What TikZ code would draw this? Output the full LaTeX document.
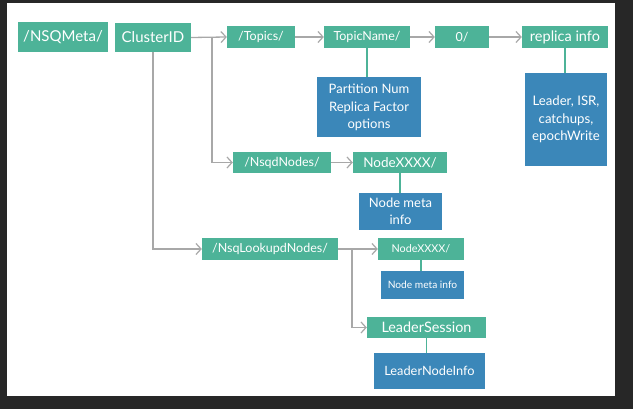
\documentclass[tikz,border=0pt]{standalone}
\usepackage{fontspec}
\setmainfont{Lato}
\usetikzlibrary{arrows.meta}
\definecolor{tealbox}{HTML}{4DB398}
\definecolor{bluebox}{HTML}{3B87B9}
\definecolor{linegray}{HTML}{A8A8A8}
\definecolor{frame}{HTML}{272727}
\tikzset{
  gbox/.style={fill=tealbox, text=white, inner sep=0pt, align=center},
  bbox/.style={fill=bluebox, text=white, inner sep=0pt, align=center},
  arr/.style={draw=linegray, line width=1.3pt, -{Straight Barb[length=5pt,width=11pt,line width=1.2pt]}},
  link/.style={draw=tealbox, line width=1.5pt},
}
\begin{document}
\begin{tikzpicture}[x=1pt,y=-1pt]
\fill[frame] (0,0) rectangle (633,409);
\fill[white] (7,3) rectangle (615,396);
\useasboundingbox (0,0) rectangle (633,409);

\node[gbox, minimum width=90pt, minimum height=30pt, font=\fontsize{15}{18}\selectfont] (meta) at (63,37) {/NSQMeta/};
\node[gbox, minimum width=76pt, minimum height=29pt, font=\fontsize{15}{18}\selectfont] (cluster) at (153,37.5) {ClusterID};
\node[gbox, minimum width=68pt, minimum height=22pt, font=\fontsize{12.5}{15}\selectfont] (topics) at (261,37) {/Topics/};
\node[gbox, minimum width=86pt, minimum height=22pt, font=\fontsize{12.5}{15}\selectfont] (topicname) at (367,37) {TopicName/};
\node[gbox, minimum width=54pt, minimum height=22pt, font=\fontsize{12.5}{15}\selectfont] (zero) at (462,37) {0/};
\node[gbox, minimum width=86pt, minimum height=22pt, font=\fontsize{14.5}{17}\selectfont] (replica) at (565,37) {replica info};
\node[bbox, minimum width=104pt, minimum height=60pt, font=\fontsize{13}{17.5}\selectfont] (partition) at (369,107.5) {Partition Num\\Replica Factor\\options};
\node[bbox, minimum width=82pt, minimum height=93pt, font=\fontsize{13.2}{17.5}\selectfont] (leaderisr) at (566,119.5) {Leader, ISR,\\catchups,\\epochWrite};
\node[gbox, minimum width=98pt, minimum height=21pt, font=\fontsize{12.5}{15}\selectfont] (nsqd) at (282,162.5) {/NsqdNodes/};
\node[gbox, minimum width=94pt, minimum height=21pt, font=\fontsize{13.5}{16}\selectfont] (nodexa) at (400,162.5) {NodeXXXX/};
\node[bbox, minimum width=83pt, minimum height=37pt, font=\fontsize{13}{16.5}\selectfont] (metaa) at (400.5,211.5) {Node meta\\info};
\node[gbox, minimum width=136pt, minimum height=22pt, font=\fontsize{12.5}{15}\selectfont] (lookupd) at (270,249) {/NsqLookupdNodes/};
\node[gbox, minimum width=86pt, minimum height=22pt, font=\fontsize{10.8}{12}\selectfont] (nodexb) at (421,249) {NodeXXXX/};
\node[bbox, minimum width=83pt, minimum height=28pt, font=\fontsize{10.2}{12}\selectfont] (metab) at (422.5,285) {Node meta info};
\node[gbox, minimum width=119pt, minimum height=21pt, font=\fontsize{14.4}{17}\selectfont] (lsession) at (426.5,327.5) {LeaderSession};
\node[bbox, minimum width=111pt, minimum height=36pt, font=\fontsize{12.8}{15}\selectfont] (lnodeinfo) at (429.5,371) {LeaderNodeInfo};

% gray arrows
\coordinate (b1) at (212,37);
\coordinate (b2) at (352,249);
\draw[arr] (cluster.east) -- (topics.west);
\draw[arr] (b1) |- (nsqd.west);
\draw[arr] (cluster.south) |- (lookupd.west);
\draw[arr] (topics.east) -- (topicname.west);
\draw[arr] (topicname.east) -- (zero.west);
\draw[arr] (zero.east) -- (replica.west);
\draw[arr] (nsqd.east) -- (nodexa.west);
\draw[arr] (lookupd.east) -- (nodexb.west);
\draw[arr] (b2) |- (lsession.west);

% teal links
\draw[link] (topicname.south) -- (topicname.south |- partition.north);
\draw[link] (replica.south) -- (replica.south |- leaderisr.north);
\draw[link] (nodexa.south) -- (nodexa.south |- metaa.north);
\draw[link] (nodexb.south) -- (nodexb.south |- metab.north);
\draw[link] (lsession.south) -- (lsession.south |- lnodeinfo.north);
\end{tikzpicture}
\end{document}
